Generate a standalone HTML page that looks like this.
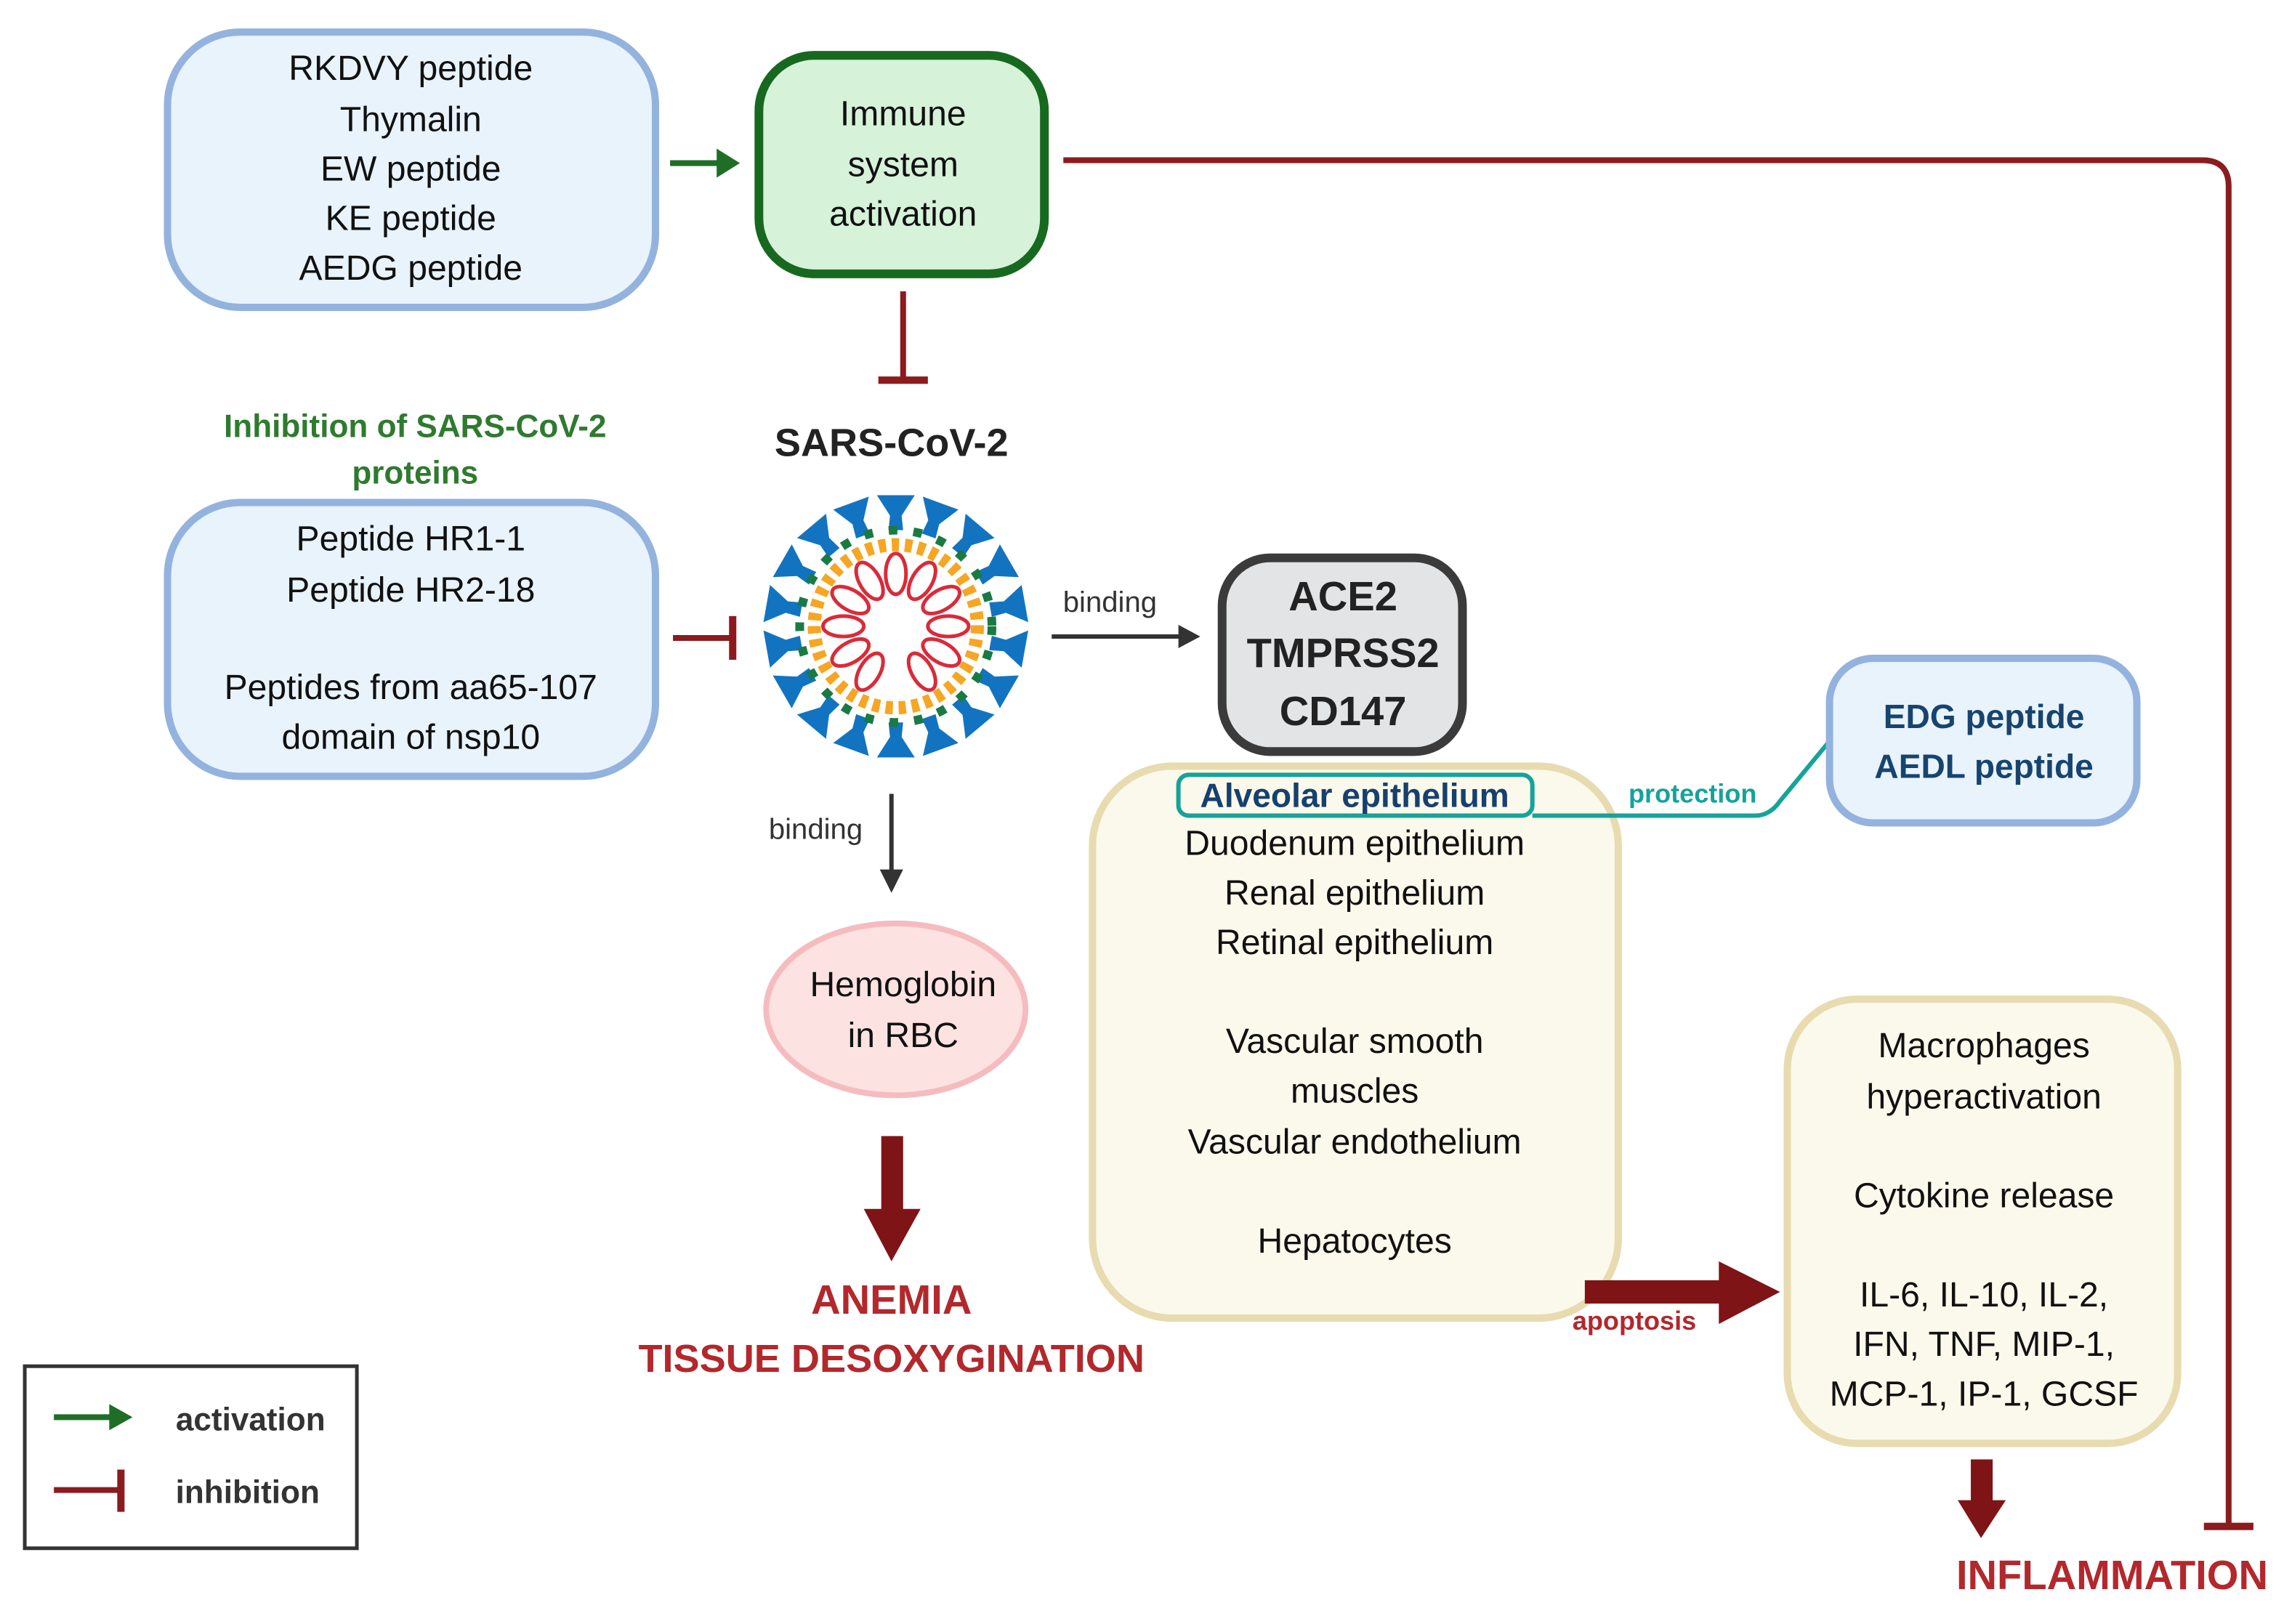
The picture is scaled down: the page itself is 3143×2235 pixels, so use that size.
<!DOCTYPE html>
<html><head><meta charset="utf-8"><style>
html,body{margin:0;padding:0;background:#fff;}
svg{display:block;}
text{font-family:"Liberation Sans",sans-serif;}
</style></head><body>
<svg width="3143" height="2235" viewBox="0 0 1568 1115" xmlns="http://www.w3.org/2000/svg">
<rect width="1568" height="1115" fill="#fff"/>
<!-- Box1 -->
<rect x="115" y="22" width="335" height="189" rx="50" fill="#e8f3fc" stroke="#93b3de" stroke-width="5"/>
<g font-size="24" fill="#111" text-anchor="middle">
<text x="282" y="55">RKDVY peptide</text>
<text x="282" y="90">Thymalin</text>
<text x="282" y="124">EW peptide</text>
<text x="282" y="158">KE peptide</text>
<text x="282" y="192">AEDG peptide</text>
</g>
<line x1="460" y1="112" x2="495" y2="112" stroke="#1e6e28" stroke-width="4"/>
<polygon points="492,102 508,112 492,122" fill="#1e6e28"/>
<rect x="521" y="38" width="196" height="150" rx="38" fill="#d6f2d9" stroke="#17691f" stroke-width="6"/>
<g font-size="24" fill="#111" text-anchor="middle">
<text x="620" y="86">Immune</text>
<text x="620" y="121">system</text>
<text x="620" y="155">activation</text>
</g>
<path d="M730,110 H1512 Q1530,110 1530,128 V1048" fill="none" stroke="#8b1b1e" stroke-width="4"/>
<line x1="1513" y1="1048" x2="1547" y2="1048" stroke="#8b1b1e" stroke-width="5"/>
<line x1="620" y1="200" x2="620" y2="261" stroke="#8b1b1e" stroke-width="4"/>
<line x1="603" y1="261" x2="637" y2="261" stroke="#8b1b1e" stroke-width="5"/>
<text x="285" y="300" font-size="22" font-weight="bold" fill="#2f7a2f" text-anchor="middle">Inhibition of SARS-CoV-2</text>
<text x="285" y="332" font-size="22" font-weight="bold" fill="#2f7a2f" text-anchor="middle">proteins</text>
<text x="612" y="313" font-size="27" font-weight="bold" fill="#222" text-anchor="middle">SARS-CoV-2</text>
<rect x="115" y="345" width="335" height="188" rx="50" fill="#e8f3fc" stroke="#93b3de" stroke-width="5"/>
<g font-size="24" fill="#111" text-anchor="middle">
<text x="282" y="378">Peptide HR1-1</text>
<text x="282" y="413">Peptide HR2-18</text>
<text x="282" y="480">Peptides from aa65-107</text>
<text x="282" y="514">domain of nsp10</text>
</g>
<line x1="462" y1="438" x2="503" y2="438" stroke="#8b1b1e" stroke-width="4"/>
<line x1="503" y1="423" x2="503" y2="453" stroke="#8b1b1e" stroke-width="5"/>
<!-- virus -->
<g transform="translate(615,430)">
<g fill="#1274c0">
<path d="M-5,-66 L5,-66 L4,-76 L13,-90 L-13,-90 L-4,-76 Z"/>
<path d="M-5,-66 L5,-66 L4,-76 L13,-90 L-13,-90 L-4,-76 Z" transform="rotate(20)"/>
<path d="M-5,-66 L5,-66 L4,-76 L13,-90 L-13,-90 L-4,-76 Z" transform="rotate(40)"/>
<path d="M-5,-66 L5,-66 L4,-76 L13,-90 L-13,-90 L-4,-76 Z" transform="rotate(60)"/>
<path d="M-5,-66 L5,-66 L4,-76 L13,-90 L-13,-90 L-4,-76 Z" transform="rotate(80)"/>
<path d="M-5,-66 L5,-66 L4,-76 L13,-90 L-13,-90 L-4,-76 Z" transform="rotate(100)"/>
<path d="M-5,-66 L5,-66 L4,-76 L13,-90 L-13,-90 L-4,-76 Z" transform="rotate(120)"/>
<path d="M-5,-66 L5,-66 L4,-76 L13,-90 L-13,-90 L-4,-76 Z" transform="rotate(140)"/>
<path d="M-5,-66 L5,-66 L4,-76 L13,-90 L-13,-90 L-4,-76 Z" transform="rotate(160)"/>
<path d="M-5,-66 L5,-66 L4,-76 L13,-90 L-13,-90 L-4,-76 Z" transform="rotate(180)"/>
<path d="M-5,-66 L5,-66 L4,-76 L13,-90 L-13,-90 L-4,-76 Z" transform="rotate(200)"/>
<path d="M-5,-66 L5,-66 L4,-76 L13,-90 L-13,-90 L-4,-76 Z" transform="rotate(220)"/>
<path d="M-5,-66 L5,-66 L4,-76 L13,-90 L-13,-90 L-4,-76 Z" transform="rotate(240)"/>
<path d="M-5,-66 L5,-66 L4,-76 L13,-90 L-13,-90 L-4,-76 Z" transform="rotate(260)"/>
<path d="M-5,-66 L5,-66 L4,-76 L13,-90 L-13,-90 L-4,-76 Z" transform="rotate(280)"/>
<path d="M-5,-66 L5,-66 L4,-76 L13,-90 L-13,-90 L-4,-76 Z" transform="rotate(300)"/>
<path d="M-5,-66 L5,-66 L4,-76 L13,-90 L-13,-90 L-4,-76 Z" transform="rotate(320)"/>
<path d="M-5,-66 L5,-66 L4,-76 L13,-90 L-13,-90 L-4,-76 Z" transform="rotate(340)"/>
</g>
<circle r="56" fill="none" stroke="#f6a623" stroke-width="9" stroke-dasharray="5 4"/>
<circle r="66" fill="none" stroke="#1a7a44" stroke-width="6" stroke-dasharray="6 11"/>
<g fill="none" stroke="#d92b3a" stroke-width="2.5">
<ellipse cx="0" cy="-36" rx="7" ry="14"/>
<ellipse cx="0" cy="-36" rx="7" ry="14" transform="rotate(30)"/>
<ellipse cx="0" cy="-36" rx="7" ry="14" transform="rotate(60)"/>
<ellipse cx="0" cy="-36" rx="7" ry="14" transform="rotate(90)"/>
<ellipse cx="0" cy="-36" rx="7" ry="14" transform="rotate(120)"/>
<ellipse cx="0" cy="-36" rx="7" ry="14" transform="rotate(150)"/>
<ellipse cx="0" cy="-36" rx="7" ry="14" transform="rotate(210)"/>
<ellipse cx="0" cy="-36" rx="7" ry="14" transform="rotate(240)"/>
<ellipse cx="0" cy="-36" rx="7" ry="14" transform="rotate(270)"/>
<ellipse cx="0" cy="-36" rx="7" ry="14" transform="rotate(300)"/>
<ellipse cx="0" cy="-36" rx="7" ry="14" transform="rotate(330)"/>
</g>
</g>
<text x="762" y="420" font-size="20" fill="#333" text-anchor="middle">binding</text>
<line x1="722" y1="437" x2="812" y2="437" stroke="#333" stroke-width="3"/>
<polygon points="809,429 824,437 809,445" fill="#333"/>
<rect x="839" y="383" width="165" height="133" rx="33" fill="#e3e4e6" stroke="#3b3b3b" stroke-width="6"/>
<g font-size="28" font-weight="bold" fill="#222" text-anchor="middle">
<text x="922" y="419">ACE2</text>
<text x="922" y="458">TMPRSS2</text>
<text x="922" y="498">CD147</text>
</g>
<text x="560" y="576" font-size="20" fill="#333" text-anchor="middle">binding</text>
<line x1="612" y1="545" x2="612" y2="600" stroke="#333" stroke-width="3"/>
<polygon points="604,597 612,613 620,597" fill="#333"/>
<ellipse cx="615" cy="693" rx="89" ry="59" fill="#fde2e2" stroke="#f5bcbf" stroke-width="4"/>
<text x="620" y="684" font-size="24" fill="#111" text-anchor="middle">Hemoglobin</text>
<text x="620" y="719" font-size="24" fill="#111" text-anchor="middle">in RBC</text>
<rect x="605" y="780" width="15" height="52" fill="#7f1416"/>
<polygon points="593,830 632,830 612,866" fill="#7f1416"/>
<text x="612" y="902" font-size="28" font-weight="bold" fill="#b2282c" text-anchor="middle">ANEMIA</text>
<text x="612" y="942" font-size="27" font-weight="bold" fill="#b2282c" text-anchor="middle">TISSUE DESOXYGINATION</text>
<rect x="750" y="526" width="361" height="379" rx="55" fill="#fbf9eb" stroke="#e8dbb0" stroke-width="5"/>
<path d="M1052,560 H1205 Q1215,560 1222,550 L1255,510" fill="none" stroke="#15a39a" stroke-width="3"/>
<rect x="809" y="532" width="243" height="28" rx="7" fill="#fbf9eb" stroke="#15a39a" stroke-width="3"/>
<text x="930" y="554" font-size="23" font-weight="bold" fill="#16406e" text-anchor="middle">Alveolar epithelium</text>
<text x="1162" y="551" font-size="18" font-weight="bold" fill="#15a39a" text-anchor="middle">protection</text>
<g font-size="24" fill="#111" text-anchor="middle">
<text x="930" y="587">Duodenum epithelium</text>
<text x="930" y="621">Renal epithelium</text>
<text x="930" y="655">Retinal epithelium</text>
<text x="930" y="723">Vascular smooth</text>
<text x="930" y="757">muscles</text>
<text x="930" y="792">Vascular endothelium</text>
<text x="930" y="860">Hepatocytes</text>
</g>
<rect x="1256" y="452" width="211" height="113" rx="30" fill="#e8f3fc" stroke="#93b3de" stroke-width="5"/>
<text x="1362" y="500" font-size="23" font-weight="bold" fill="#17446f" text-anchor="middle">EDG peptide</text>
<text x="1362" y="534" font-size="23" font-weight="bold" fill="#17446f" text-anchor="middle">AEDL peptide</text>
<rect x="1088" y="879" width="96" height="16" fill="#7f1416"/>
<polygon points="1180,866 1222,887 1180,909" fill="#7f1416"/>
<text x="1122" y="913" font-size="18" font-weight="bold" fill="#b2282c" text-anchor="middle">apoptosis</text>
<rect x="1227" y="686" width="268" height="305" rx="48" fill="#fbf9eb" stroke="#e8dbb0" stroke-width="5"/>
<g font-size="24" fill="#111" text-anchor="middle">
<text x="1362" y="726">Macrophages</text>
<text x="1362" y="761">hyperactivation</text>
<text x="1362" y="829">Cytokine release</text>
<text x="1362" y="897">IL-6, IL-10, IL-2,</text>
<text x="1362" y="931">IFN, TNF, MIP-1,</text>
<text x="1362" y="965">MCP-1, IP-1, GCSF</text>
</g>
<rect x="1353" y="1002" width="15" height="30" fill="#7f1416"/>
<polygon points="1344,1030 1377,1030 1360,1056" fill="#7f1416"/>
<text x="1450" y="1091" font-size="28" font-weight="bold" fill="#b2282c" text-anchor="middle">INFLAMMATION</text>
<rect x="17" y="938" width="228" height="125" fill="#fff" stroke="#333" stroke-width="2.5"/>
<line x1="37" y1="973" x2="78" y2="973" stroke="#1e6e28" stroke-width="4"/>
<polygon points="75,964 91,973 75,982" fill="#1e6e28"/>
<text x="172" y="982" font-size="22" font-weight="bold" fill="#333" text-anchor="middle">activation</text>
<line x1="37" y1="1023" x2="82" y2="1023" stroke="#8b1b1e" stroke-width="4"/>
<line x1="83" y1="1009" x2="83" y2="1038" stroke="#8b1b1e" stroke-width="5"/>
<text x="170" y="1032" font-size="22" font-weight="bold" fill="#333" text-anchor="middle">inhibition</text>
</svg>
</body></html>
